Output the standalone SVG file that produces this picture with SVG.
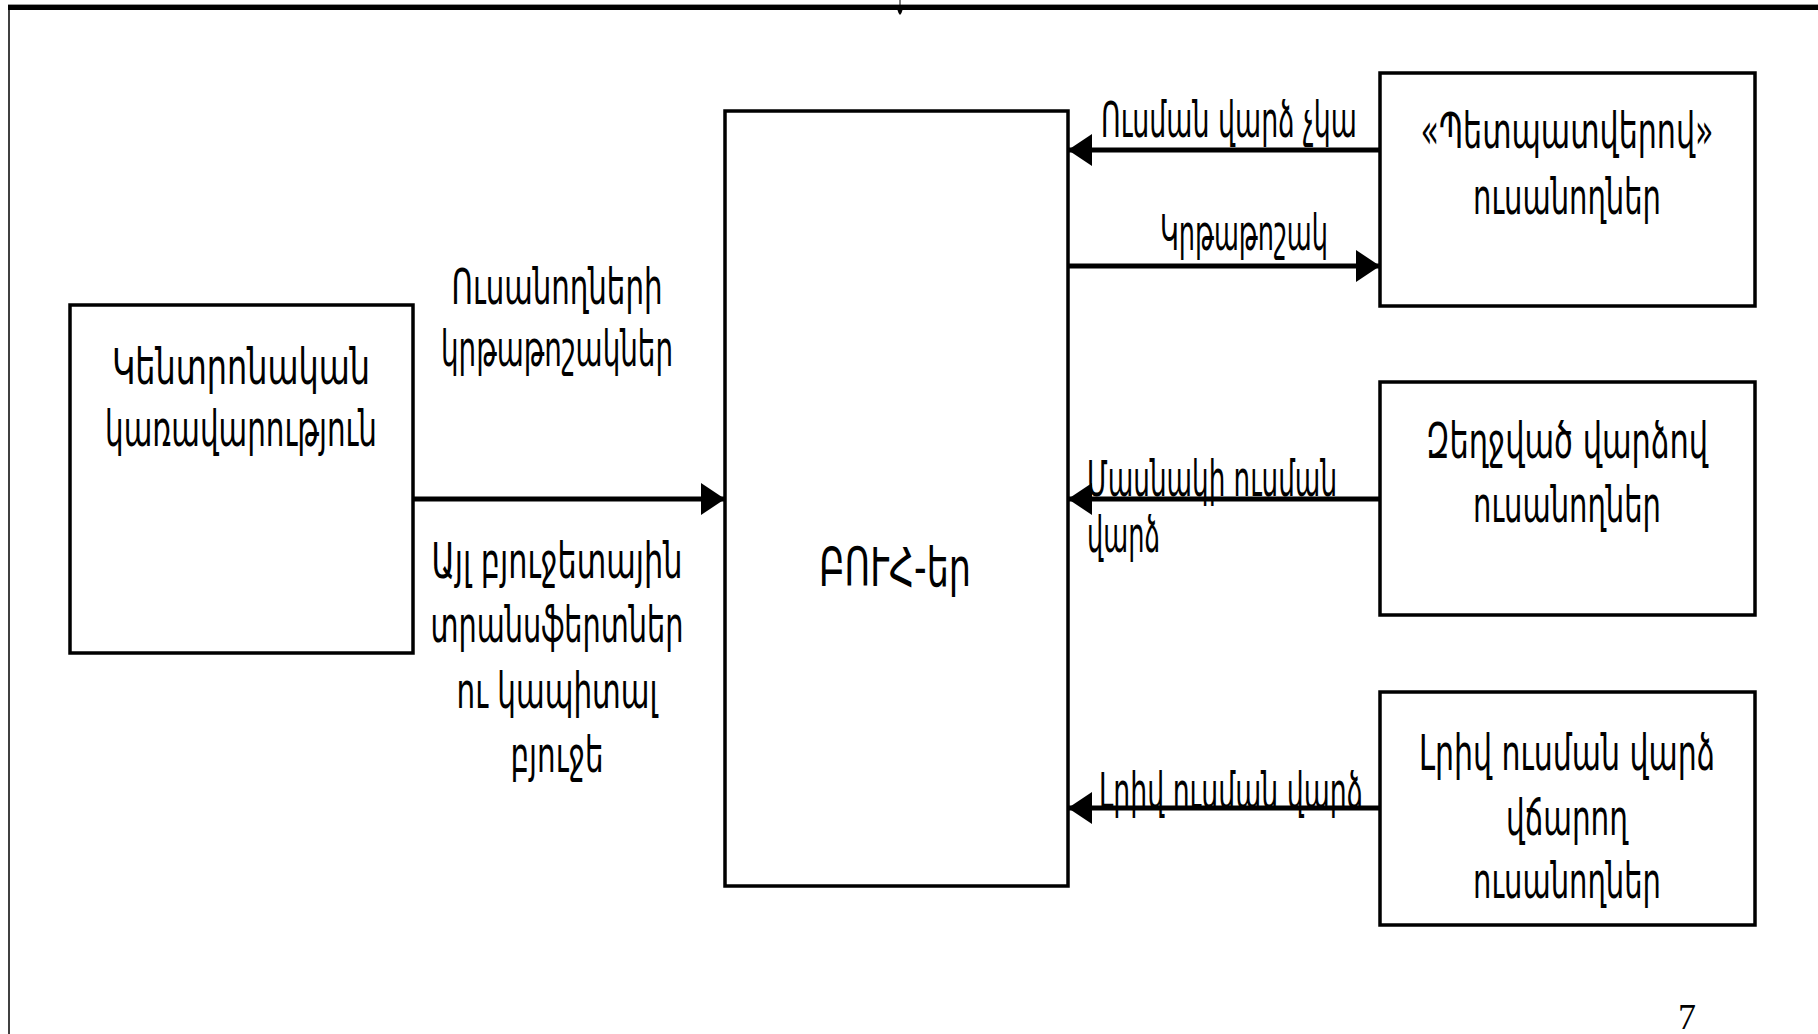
<svg xmlns="http://www.w3.org/2000/svg" width="1818" height="1034" viewBox="0 0 1818 1034">
  <style>
    .box { fill: #ffffff; stroke: #000000; stroke-width: 3.5; }
    .conn { stroke: #000000; stroke-width: 5; fill: none; }
    .t { font-family: "DejaVu Sans Condensed", "DejaVu Sans", sans-serif; font-stretch: condensed; font-size: 50px; fill: #000000; }
    .c { text-anchor: middle; }
    .num { font-family: "Liberation Serif", serif; font-size: 36px; fill: #000000; text-anchor: middle; }
  </style>
  <defs>
    <marker id="ah" markerUnits="userSpaceOnUse" markerWidth="24" markerHeight="32" refX="24" refY="16" orient="auto">
      <path d="M0,0 L24,16 L0,32 Z" fill="#000000"/>
    </marker>
  </defs>
  <rect x="0" y="0" width="1818" height="1034" fill="#ffffff"/>

  <!-- page frame -->
  <g id="frame">
    <line x1="8" y1="4.5" x2="1818" y2="4.5" stroke="#9a9a9a" stroke-width="1"/>
    <rect x="8" y="5" width="1810" height="5" fill="#000000"/>
    <line x1="9" y1="10" x2="9" y2="1034" stroke="#000000" stroke-width="1.5"/>
    <line x1="900" y1="0" x2="900" y2="6" stroke="#000000" stroke-width="1"/>
    <path d="M897.5,10 L902.5,10 L901.5,13 L900,15 L898.5,13 Z" fill="#000000"/>
  </g>

  <!-- connectors -->
  <g id="connectors">
    <line class="conn" x1="414" y1="499" x2="725" y2="499" marker-end="url(#ah)"/>
    <line class="conn" x1="1380" y1="150" x2="1068" y2="150" marker-end="url(#ah)"/>
    <line class="conn" x1="1068" y1="266" x2="1380" y2="266" marker-end="url(#ah)"/>
    <line class="conn" x1="1380" y1="499" x2="1068" y2="499" marker-end="url(#ah)"/>
    <line class="conn" x1="1380" y1="808" x2="1068" y2="808" marker-end="url(#ah)"/>
  </g>

  <!-- connector labels -->
  <g id="labels">
    <text class="t c" x="557" y="304" textLength="211" lengthAdjust="spacingAndGlyphs">Ուսանողների</text>
    <text class="t c" x="557" y="366" textLength="232" lengthAdjust="spacingAndGlyphs">կրթաթոշակներ</text>
    <text class="t c" x="557" y="578" textLength="251" lengthAdjust="spacingAndGlyphs">Այլ բյուջետային</text>
    <text class="t c" x="557" y="642" textLength="253" lengthAdjust="spacingAndGlyphs">տրանսֆերտներ</text>
    <text class="t c" x="557" y="708" textLength="201" lengthAdjust="spacingAndGlyphs">ու կապիտալ</text>
    <text class="t c" x="557" y="772" textLength="93" lengthAdjust="spacingAndGlyphs">բյուջե</text>
    <text class="t" x="1101" y="137" textLength="256" lengthAdjust="spacingAndGlyphs">Ուսման վարձ չկա</text>
    <text class="t" x="1160" y="250" textLength="168" lengthAdjust="spacingAndGlyphs">Կրթաթոշակ</text>
    <text class="t" x="1087" y="496" textLength="250" lengthAdjust="spacingAndGlyphs">Մասնակի ուսման</text>
    <text class="t" x="1087" y="552" textLength="73" lengthAdjust="spacingAndGlyphs">վարձ</text>
    <text class="t" x="1099" y="808" textLength="264" lengthAdjust="spacingAndGlyphs">Լրիվ ուսման վարձ</text>
  </g>

  <g id="node-government">
    <rect class="box" x="70" y="305" width="343" height="348"/>
    <text class="t c" x="241" y="384" textLength="258" lengthAdjust="spacingAndGlyphs">Կենտրոնական</text>
    <text class="t c" x="241" y="446" textLength="272" lengthAdjust="spacingAndGlyphs">կառավարություն</text>
  </g>

  <g id="node-buh">
    <rect class="box" x="725" y="111" width="343" height="775"/>
    <text class="t c" x="895" y="586" style="font-size:54px" textLength="152" lengthAdjust="spacingAndGlyphs">ԲՈՒՀ-եր</text>
  </g>

  <g id="node-state-order">
    <rect class="box" x="1380" y="73" width="375" height="233"/>
    <text class="t c" x="1567" y="148" textLength="293" lengthAdjust="spacingAndGlyphs">«Պետպատվերով»</text>
    <text class="t c" x="1567" y="214" textLength="188" lengthAdjust="spacingAndGlyphs">ուսանողներ</text>
  </g>

  <g id="node-discount">
    <rect class="box" x="1380" y="382" width="375" height="233"/>
    <text class="t c" x="1567" y="458" textLength="282" lengthAdjust="spacingAndGlyphs">Զեղջված վարձով</text>
    <text class="t c" x="1567" y="522" textLength="188" lengthAdjust="spacingAndGlyphs">ուսանողներ</text>
  </g>

  <g id="node-full-fee">
    <rect class="box" x="1380" y="692" width="375" height="233"/>
    <text class="t c" x="1567" y="770" textLength="296" lengthAdjust="spacingAndGlyphs">Լրիվ ուսման վարձ</text>
    <text class="t c" x="1567" y="835" textLength="122" lengthAdjust="spacingAndGlyphs">վճարող</text>
    <text class="t c" x="1567" y="898" textLength="188" lengthAdjust="spacingAndGlyphs">ուսանողներ</text>
  </g>

  <text class="num" x="1687" y="1029">7</text>
</svg>
